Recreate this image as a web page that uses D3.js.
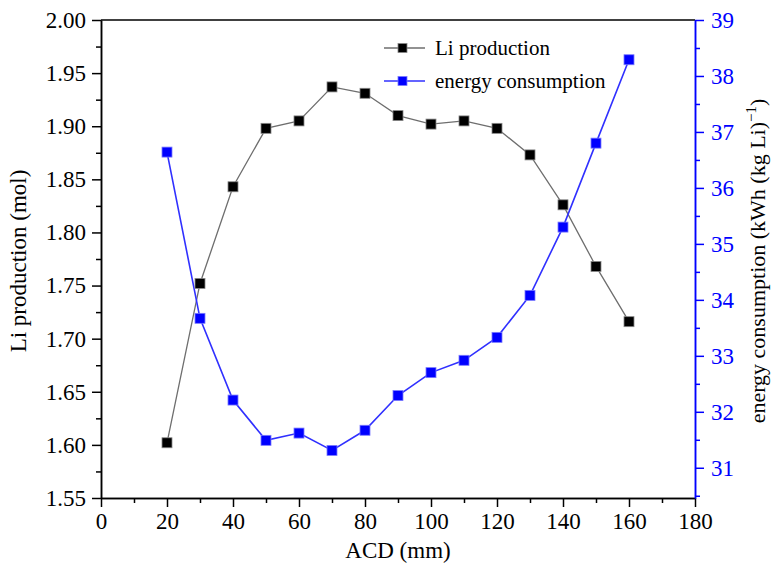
<!DOCTYPE html>
<html>
<head>
<meta charset="utf-8">
<script src="https://cdn.jsdelivr.net/npm/d3@7"></script>
<style>
  body { margin: 0; background: #fff; }
  svg text { font-family: "Liberation Serif", "DejaVu Serif", serif; }
</style>
</head>
<body>
<svg width="773" height="566"></svg>
<script>
var acd = [20, 30, 40, 50, 60, 70, 80, 90, 100, 110, 120, 130, 140, 150, 160];
var liProduction = [1.602, 1.752, 1.843, 1.898, 1.905, 1.937, 1.931, 1.910, 1.902, 1.905, 1.898, 1.873, 1.826, 1.768, 1.716];
var energy = [36.64, 33.67, 32.21, 31.49, 31.62, 31.31, 31.67, 32.29, 32.70, 32.92, 33.33, 34.08, 35.30, 36.80, 38.29];
var xTicks = [0, 20, 40, 60, 80, 100, 120, 140, 160, 180];
var leftTicks = [1.55, 1.60, 1.65, 1.70, 1.75, 1.80, 1.85, 1.90, 1.95, 2.00];
var rightTicks = [31, 32, 33, 34, 35, 36, 37, 38, 39];

var svg = d3.select('svg');
var plotL = 101, plotR = 695, plotT = 20, plotB = 498;

var x = d3.scaleLinear().domain([0, 180]).range([plotL, plotR]);
var yL = d3.scaleLinear().domain([1.55, 2.00]).range([plotB, plotT]);
var yR = d3.scaleLinear().domain([30.46, 39]).range([plotB, plotT]);

// minor ticks
var xMinor = d3.range(10, 180, 20);
var leftMinor = d3.range(1.575, 2.0, 0.05);
var rightMinor = d3.range(30.5, 39, 1);

function styleAxis(g, color) {
    g.attr('font-family', '"Liberation Serif", serif').attr('font-size', 23);
    g.selectAll('path').attr('stroke', color).attr('stroke-width', 1.5);
    g.selectAll('line').attr('stroke', color).attr('stroke-width', 1.5);
    g.selectAll('text').attr('fill', color);
}

// top border
svg.append('line')
    .attr('x1', plotL).attr('x2', plotR)
    .attr('y1', plotT).attr('y2', plotT)
    .attr('stroke', '#000').attr('stroke-width', 1.5);

svg.append('g')
    .attr('transform', 'translate(0,' + plotB + ')')
    .call(d3.axisBottom(x).tickValues(xMinor).tickSize(5).tickSizeOuter(0).tickFormat(''))
    .call(styleAxis, '#000');
svg.append('g')
    .attr('transform', 'translate(0,' + plotB + ')')
    .call(d3.axisBottom(x).tickValues(xTicks).tickSize(9).tickSizeOuter(0).tickPadding(6).tickFormat(d3.format('d')))
    .call(styleAxis, '#000');

svg.append('g')
    .attr('transform', 'translate(' + plotL + ',0)')
    .call(d3.axisLeft(yL).tickValues(leftMinor).tickSize(5).tickSizeOuter(0).tickFormat(''))
    .call(styleAxis, '#000');
svg.append('g')
    .attr('transform', 'translate(' + plotL + ',0)')
    .call(d3.axisLeft(yL).tickValues(leftTicks).tickSize(9).tickSizeOuter(0).tickPadding(6).tickFormat(d3.format('.2f')))
    .call(styleAxis, '#000');

svg.append('g')
    .attr('transform', 'translate(' + plotR + ',0)')
    .call(d3.axisRight(yR).tickValues(rightMinor).tickSize(5).tickSizeOuter(0).tickFormat(''))
    .call(styleAxis, '#0000ff');
svg.append('g')
    .attr('transform', 'translate(' + plotR + ',0)')
    .call(d3.axisRight(yR).tickValues(rightTicks).tickSize(9).tickSizeOuter(0).tickPadding(7).tickFormat(d3.format('d')))
    .call(styleAxis, '#0000ff');

// axis titles
svg.append('text')
    .attr('x', (plotL + plotR) / 2).attr('y', 558)
    .attr('text-anchor', 'middle')
    .style('font-size', '23px')
    .text('ACD (mm)');

svg.append('text')
    .attr('transform', 'translate(26,' + ((plotT + plotB) / 2 + 2) + ') rotate(-90)')
    .attr('text-anchor', 'middle')
    .style('font-size', '23px')
    .text('Li production (mol)');

var rt = svg.append('text')
    .attr('transform', 'translate(765,' + ((plotT + plotB) / 2 + 2) + ') rotate(-90)')
    .attr('text-anchor', 'middle')
    .style('font-size', '22px');
rt.append('tspan').text('energy consumption (kWh (kg Li)');
rt.append('tspan').attr('dy', -9).style('font-size', '15px').text('\u22121');
rt.append('tspan').attr('dy', 9).text(')');

// series
var liLine = d3.line()
    .x(function (d, i) { return x(acd[i]); })
    .y(function (d) { return yL(d); });
var enLine = d3.line()
    .x(function (d, i) { return x(acd[i]); })
    .y(function (d) { return yR(d); });

svg.append('path')
    .datum(liProduction)
    .attr('d', liLine)
    .attr('fill', 'none')
    .attr('stroke', '#6e6e6e')
    .attr('stroke-width', 1.3);

svg.append('path')
    .datum(energy)
    .attr('d', enLine)
    .attr('fill', 'none')
    .attr('stroke', '#3030ff')
    .attr('stroke-width', 1.6);

var ms = 10;
svg.selectAll('.li-pt')
    .data(liProduction)
    .enter().append('rect')
    .attr('class', 'li-pt')
    .attr('x', function (d, i) { return x(acd[i]) - ms / 2; })
    .attr('y', function (d) { return yL(d) - ms / 2; })
    .attr('width', ms).attr('height', ms)
    .attr('fill', '#000')
    .attr('stroke', '#888').attr('stroke-width', 0.8);

svg.selectAll('.en-pt')
    .data(energy)
    .enter().append('rect')
    .attr('class', 'en-pt')
    .attr('x', function (d, i) { return x(acd[i]) - ms / 2; })
    .attr('y', function (d) { return yR(d) - ms / 2; })
    .attr('width', ms).attr('height', ms)
    .attr('fill', '#0000ff')
    .attr('stroke', '#7a7aff').attr('stroke-width', 0.8);

// legend
var legendItems = [
    { name: 'Li production', line: '#6e6e6e', fill: '#000', edge: '#888' },
    { name: 'energy consumption', line: '#3030ff', fill: '#0000ff', edge: '#7a7aff' }
];
var legend = svg.selectAll('.legend')
    .data(legendItems)
    .enter().append('g')
    .attr('class', 'legend')
    .attr('transform', function (d, i) { return 'translate(384,' + (48 + i * 33) + ')'; });

legend.append('line')
    .attr('x1', 0).attr('x2', 41)
    .attr('stroke', function (d) { return d.line; })
    .attr('stroke-width', 1.4);
legend.append('rect')
    .attr('x', 14).attr('y', -4.5)
    .attr('width', 9).attr('height', 9)
    .attr('fill', function (d) { return d.fill; })
    .attr('stroke', function (d) { return d.edge; })
    .attr('stroke-width', 0.8);
legend.append('text')
    .attr('x', 51)
    .attr('dy', '0.33em')
    .style('font-size', '21px')
    .text(function (d) { return d.name; });
</script>
</body>
</html>
